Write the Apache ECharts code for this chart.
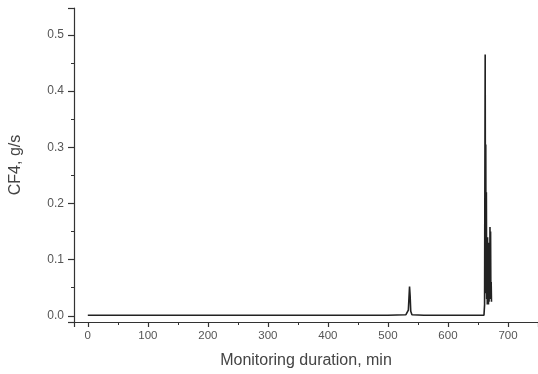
<!DOCTYPE html>
<html>
<head>
<meta charset="utf-8">
<script src="https://cdn.jsdelivr.net/npm/echarts@6/dist/echarts.min.js"></script>
<style>html,body{margin:0;padding:0;background:#fff;}#c{width:538px;height:374px;}</style>
</head>
<body>
<div id="c"></div>
<script>
// Monitoring time (min)
var timeMin = [0, 20, 50, 100, 150, 200, 250, 300, 350, 385, 388, 391, 450, 500, 530, 534, 536, 537, 538, 540, 560, 600, 640, 660,
  661, 662, 662.5, 663, 663.5, 664, 664.5, 665, 665.5, 666, 666.5, 667, 667.5, 668, 668.5, 669, 669.5, 670, 670.5, 671, 671.5, 672, 672.5];
// CF4 emission (g/s)
var cf4 = [0.001, 0.001, 0.001, 0.001, 0.001, 0.001, 0.001, 0.001, 0.001, 0.001, 0.004, 0.001, 0.001, 0.001, 0.002, 0.010, 0.052, 0.035, 0.008, 0.002, 0.001, 0.001, 0.001, 0.001,
  0.020, 0.465, 0.100, 0.305, 0.040, 0.220, 0.030, 0.120, 0.020, 0.140, 0.030, 0.100, 0.020, 0.130, 0.025, 0.090, 0.030, 0.158, 0.040, 0.150, 0.030, 0.060, 0.025];
var xName = 'Monitoring duration, min';
var yName = 'CF4, g/s';

var data = timeMin.map(function (t, i) { return [t, cf4[i]]; });
var chart = echarts.init(document.getElementById('c'), null, {renderer: 'canvas'});
var axisCol = '#333';
var txtCol = '#555';
chart.setOption({
  animation: false,
  backgroundColor: '#fff',
  grid: {left: 73, right: 0, top: 8, bottom: 51, containLabel: false},
  xAxis: {
    type: 'value', min: -23, max: 750, splitNumber: 8,
    name: xName, nameLocation: 'middle', nameGap: 31,
    nameTextStyle: {fontFamily: 'Liberation Sans', fontSize: 16, color: '#444'},
    axisLine: {show: true, onZero: false, lineStyle: {color: axisCol, width: 1.2}},
    axisTick: {show: true, inside: false, length: 5, lineStyle: {color: axisCol, width: 1.2}},
    minorTick: {show: true, splitNumber: 2, length: 3, lineStyle: {color: axisCol, width: 1}},
    splitLine: {show: false},
    axisLabel: {showMinLabel: false, showMaxLabel: false, margin: 8, fontFamily: 'Liberation Sans', fontSize: 11.5, color: txtCol}
  },
  yAxis: {
    type: 'value', min: -0.011, max: 0.548, splitNumber: 5,
    name: yName, nameLocation: 'middle', nameGap: 50, nameRotate: 90,
    nameTextStyle: {fontFamily: 'Liberation Sans', fontSize: 16, color: '#444'},
    axisLine: {show: true, onZero: false, lineStyle: {color: axisCol, width: 1.2}},
    axisTick: {show: true, inside: false, length: 6, lineStyle: {color: axisCol, width: 1.2}},
    minorTick: {show: true, splitNumber: 2, length: 3, lineStyle: {color: axisCol, width: 1}},
    splitLine: {show: false},
    axisLabel: {showMinLabel: false, showMaxLabel: false, margin: 10, fontFamily: 'Liberation Sans', fontSize: 12, color: txtCol,
      formatter: function (v) { return v.toFixed(1); }}
  },
  series: [{
    type: 'line', data: data, showSymbol: false, symbol: 'none',
    lineStyle: {color: '#222', width: 1.6}
  }]
});
</script>
</body>
</html>
